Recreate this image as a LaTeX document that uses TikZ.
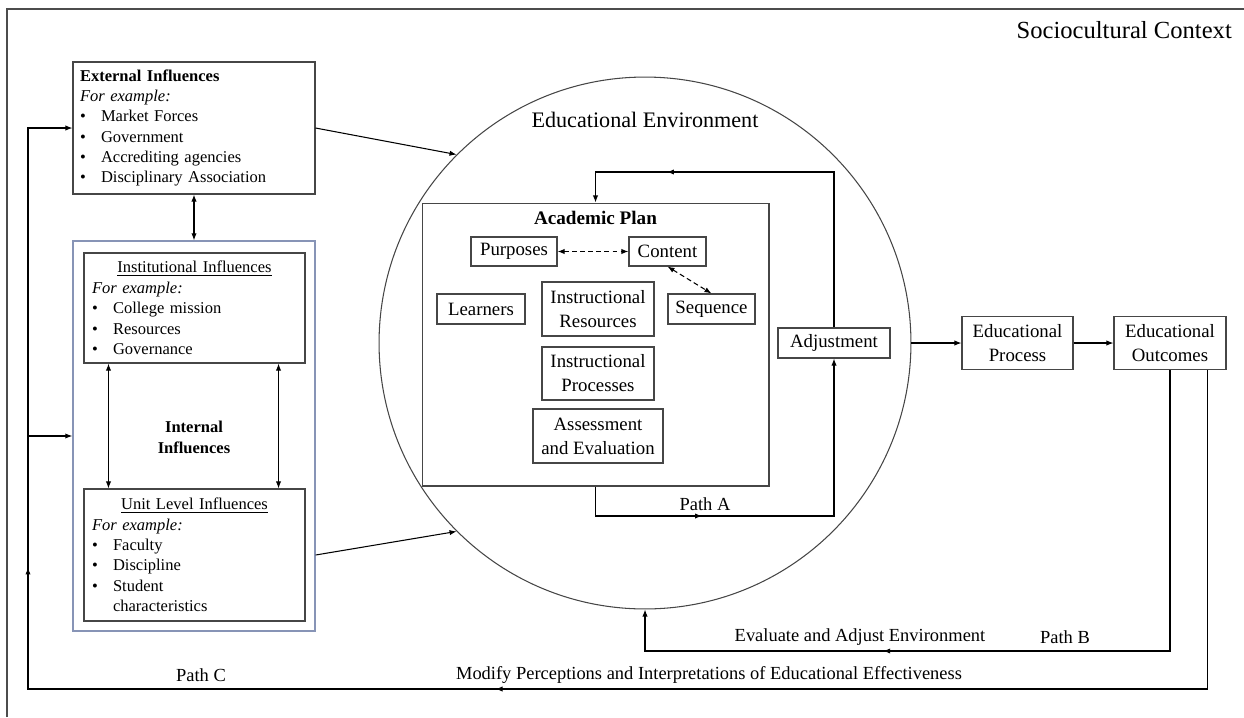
\documentclass[tikz,border=0pt]{standalone}
\usepackage{fontspec}
\setmainfont{Liberation Serif}
\definecolor{edgray}{RGB}{70,70,70}
\definecolor{edblue}{RGB}{135,148,182}
\usetikzlibrary{arrows.meta,decorations.markings}
\newcommand{\bul}[1]{\makebox[0.42cm][l]{\textbullet}#1}

\begin{document}
\begin{tikzpicture}[x=0.02cm,y=-0.02cm,
  >={Latex[length=4pt,width=3pt]},
  flow/.style={line width=0.6pt,black},
  midtip/.style={postaction={decorate},decoration={markings,mark=at position #1 with {\arrow{>}}}},
  box/.style={draw=edgray,line width=0.6pt,align=center,inner sep=0pt,font=\fontsize{10.7}{13.6}\selectfont},
  listbox/.style={draw=edgray,line width=0.6pt,align=left,inner ysep=0pt,font=\fontsize{9.4}{11.6}\selectfont},
  lbl/.style={font=\fontsize{10.5}{12}\selectfont}]
  \useasboundingbox (0,0) rectangle (1244,717);
  % Frame and title
  \draw[line width=0.9pt,black!70] (7,717) -- (7,9) -- (1244,9);
  \node[anchor=east,font=\fontsize{14}{16}\selectfont] (socio) at (1238,30) {Sociocultural Context};
  % Influences on the left
  \node[listbox,minimum width=4.84cm,minimum height=2.64cm,text width=4.56cm,inner xsep=0.14cm] (ext) at (194,128) {
    \textbf{External Influences}\\
    \textit{For example:}\\
    \bul{Market Forces}\\
    \bul{Government}\\
    \bul{Accrediting agencies}\\
    \bul{Disciplinary Association}};
  \node[draw=edblue,line width=0.8pt,minimum width=4.84cm,minimum height=7.8cm,inner sep=0pt] (internal) at (194,436) {};
  \node[listbox,minimum width=4.42cm,minimum height=2.2cm,text width=4.1cm,inner xsep=0.16cm] (inst) at (194.5,308) {
    \hfill\underline{Institutional Influences}\hfill\null\\
    \textit{For example:}\\
    \bul{College mission}\\
    \bul{Resources}\\
    \bul{Governance}};
  \node[listbox,minimum width=4.42cm,minimum height=2.64cm,text width=4.1cm,inner xsep=0.16cm] (unit) at (194.5,555) {
    \hfill\underline{Unit Level Influences}\hfill\null\\
    \textit{For example:}\\
    \bul{Faculty}\\
    \bul{Discipline}\\
    \bul{Student}\\
    \hspace*{0.42cm}characteristics};
  \node[align=center,font=\fontsize{9.4}{12}\selectfont\bfseries] (intlabel) at (194,437) {Internal\\Influences};
  % Educational environment
  \node[draw=edgray,circle,line width=0.6pt,minimum size=10.64cm,inner sep=0pt] (env) at (645,343) {};
  \node[font=\fontsize{12.6}{14}\selectfont] (envlabel) at (645,120) {Educational Environment};
  \node[draw=edgray,line width=0.6pt,minimum width=6.94cm,minimum height=5.66cm,inner sep=0pt] (plan) at (595.5,344.5) {};
  \node[font=\fontsize{10.9}{12}\selectfont\bfseries] (plantitle) at (595.5,218) {Academic Plan};
  \node[box,minimum width=1.72cm,minimum height=0.58cm] (purposes) at (514,251.5) {Purposes};
  \node[box,minimum width=1.54cm,minimum height=0.58cm] (content) at (667.5,251.5) {Content};
  \node[box,minimum width=1.76cm,minimum height=0.6cm] (learners) at (481,309) {Learners};
  \node[box,minimum width=1.74cm,minimum height=0.6cm] (sequence) at (711.5,309) {Sequence};
  \node[box,minimum width=2.24cm,minimum height=1.08cm] (resources) at (598,309) {Instructional\\Resources};
  \node[box,minimum width=2.24cm,minimum height=1.06cm] (processes) at (598,373.5) {Instructional\\Processes};
  \node[box,minimum width=2.6cm,minimum height=1.08cm] (assess) at (598,436) {Assessment\\and Evaluation};
  \node[box,minimum width=2.24cm,minimum height=0.6cm] (adjust) at (834,343) {Adjustment};
  % Process and outcomes
  \node[box,minimum width=2.22cm,minimum height=1.06cm] (process) at (1017.5,343) {Educational\\Process};
  \node[box,minimum width=2.24cm,minimum height=1.06cm] (outcomes) at (1170,343) {Educational\\Outcomes};
  % Turning points of the loops
  \coordinate (topR) at (834,172);
  \coordinate (abot) at (834,516);
  \coordinate (bbot) at (645,651);
  \coordinate (cbot) at (28,689);
  % Connectors
  \draw[flow,<->] (ext.south) -- (internal.north);
  \draw[flow,<->] ([xshift=0.5cm]inst.south west) -- ([xshift=0.5cm]unit.north west);
  \draw[flow,<->] ([xshift=-0.54cm]inst.south east) -- ([xshift=-0.54cm]unit.north east);
  \draw[flow,->] (ext.east) -- (env.135);
  \draw[flow,->] (internal.east |- unit.east) -- (env.225);
  \draw[flow,<->,dash pattern=on 2.8pt off 1.8pt] (purposes.east) -- (content.west);
  \draw[flow,<->,dash pattern=on 2.8pt off 1.8pt] (content.south) -- (sequence.north);
  \draw[flow,->,midtip=0.76] (adjust.north) -- (topR) -| (plan.north);
  \draw[flow,->,midtip=0.32] (plan.south) |- (abot) -- (adjust.south);
  \draw[flow,->] (env) -- (process);
  \draw[flow,->] (process) -- (outcomes);
  \draw[flow,->,midtip=0.67] (outcomes.south) |- (bbot) -- (env.south);
  \draw[flow,->,postaction={decorate},decoration={markings,
      mark=at position 0.49 with {\arrow{>}},
      mark=at position 0.77 with {\arrow{>}}}]
    ([xshift=-0.38cm]outcomes.south east) |- (cbot) |- (ext.west);
  \draw[flow,->] (cbot |- internal.west) -- (internal.west);
  % Path labels
  \node[lbl] (pathA) at (705,504) {Path A};
  \node[lbl] (evaladj) at (860,637) {Evaluate and Adjust Environment};
  \node[lbl] (pathB) at (1065,637) {Path B};
  \node[lbl] (modify) at (709,675) {Modify Perceptions and Interpretations of Educational Effectiveness};
  \node[lbl] (pathC) at (201,675) {Path C};
\end{tikzpicture}
\end{document}
